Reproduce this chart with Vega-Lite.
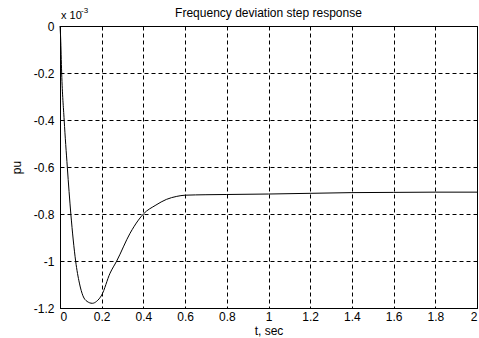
{
  "$schema": "https://vega.github.io/schema/vega-lite/v6.json",
  "width": 417,
  "height": 282,
  "autosize": {"type": "none"},
  "padding": {"left": 60, "top": 26, "right": 2, "bottom": 30},
  "background": "white",
  "config": {
    "view": {"stroke": "black", "strokeWidth": 1},
    "font": "Liberation Sans",
    "axis": {
      "domainColor": "black",
      "grid": true,
      "gridColor": "black",
      "gridOpacity": 1,
      "gridDash": [4, 3],
      "gridWidth": 1,
      "ticks": false,
      "tickSize": 0,
      "labelFont": "Liberation Sans",
      "labelFontSize": 12,
      "labelColor": "black",
      "titleFont": "Liberation Sans",
      "titleFontSize": 12,
      "titleFontWeight": "normal",
      "titleColor": "black"
    }
  },
  "title": {
    "text": "Frequency deviation step response",
    "font": "Liberation Sans",
    "fontSize": 12,
    "fontWeight": "normal",
    "color": "black",
    "anchor": "middle",
    "offset": -13
  },
  "layer": [
    {
      "data": {
        "values": [
          {"t": 0, "v": 0},
          {"t": 0.003, "v": -0.05},
          {"t": 0.008, "v": -0.2},
          {"t": 0.02, "v": -0.4},
          {"t": 0.035, "v": -0.6},
          {"t": 0.052, "v": -0.8},
          {"t": 0.075, "v": -1.0},
          {"t": 0.093, "v": -1.094},
          {"t": 0.11, "v": -1.148},
          {"t": 0.13, "v": -1.172},
          {"t": 0.155, "v": -1.18},
          {"t": 0.175, "v": -1.172},
          {"t": 0.2, "v": -1.145},
          {"t": 0.24, "v": -1.052},
          {"t": 0.272, "v": -1.0},
          {"t": 0.336, "v": -0.882},
          {"t": 0.376, "v": -0.826},
          {"t": 0.4, "v": -0.8},
          {"t": 0.46, "v": -0.762},
          {"t": 0.51, "v": -0.738},
          {"t": 0.56, "v": -0.725},
          {"t": 0.6, "v": -0.72},
          {"t": 0.7, "v": -0.718},
          {"t": 0.8, "v": -0.717},
          {"t": 1.0, "v": -0.715},
          {"t": 1.2, "v": -0.712},
          {"t": 1.4, "v": -0.709},
          {"t": 1.6, "v": -0.708},
          {"t": 1.8, "v": -0.707},
          {"t": 2.0, "v": -0.707}
        ]
      },
      "mark": {"type": "line", "color": "black", "strokeWidth": 1, "interpolate": "monotone"},
      "encoding": {
        "x": {
          "field": "t",
          "type": "quantitative",
          "scale": {"domain": [0, 2], "nice": false, "zero": false},
          "axis": {
            "title": "t, sec",
            "values": [0, 0.2, 0.4, 0.6, 0.8, 1, 1.2, 1.4, 1.6, 1.8, 2],
            "labelExpr": "toString(datum.value)",
            "labelPadding": 3,
            "titlePadding": 3
          }
        },
        "y": {
          "field": "v",
          "type": "quantitative",
          "scale": {"domain": [-1.2, 0], "nice": false, "zero": false},
          "axis": {
            "title": "pu",
            "values": [-1.2, -1, -0.8, -0.6, -0.4, -0.2, 0],
            "labelExpr": "toString(datum.value)",
            "labelPadding": 6,
            "titlePadding": 10
          }
        }
      }
    },
    {
      "data": {"values": [{"t": 0, "v": 0, "label": "x 10"}]},
      "mark": {"type": "text", "align": "left", "baseline": "alphabetic", "dx": 1, "dy": -7, "fontSize": 11, "font": "Liberation Sans", "color": "black"},
      "encoding": {
        "x": {"field": "t", "type": "quantitative"},
        "y": {"field": "v", "type": "quantitative"},
        "text": {"field": "label"}
      }
    },
    {
      "data": {"values": [{"t": 0, "v": 0, "label": "-3"}]},
      "mark": {"type": "text", "align": "left", "baseline": "alphabetic", "dx": 21, "dy": -13, "fontSize": 8, "font": "Liberation Sans", "color": "black"},
      "encoding": {
        "x": {"field": "t", "type": "quantitative"},
        "y": {"field": "v", "type": "quantitative"},
        "text": {"field": "label"}
      }
    }
  ]
}
